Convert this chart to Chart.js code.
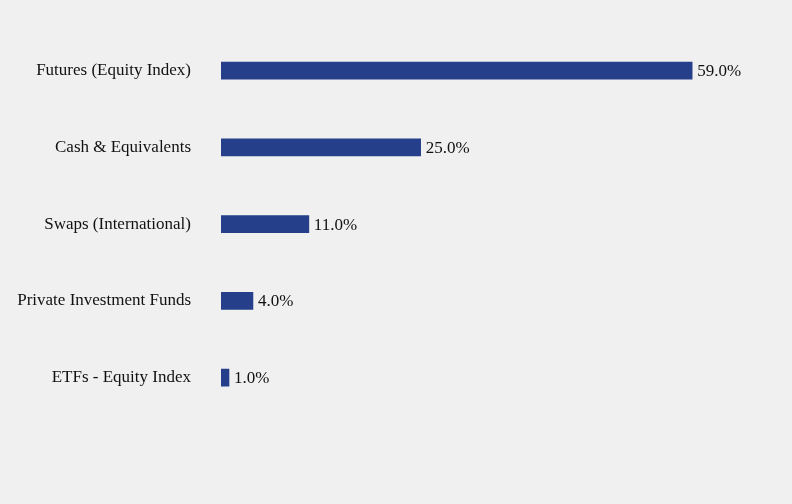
<!DOCTYPE html>
<html><head><meta charset="utf-8">
<script src="https://cdn.jsdelivr.net/npm/chart.js@4"></script>
<style>html,body{margin:0;padding:0;background:#f0f0f0;}#w{width:792px;height:504px;}</style>
</head><body><div id="w"><canvas id="c"></canvas></div>
<script>
const categories = ["Futures (Equity Index)","Cash & Equivalents","Swaps (International)","Private Investment Funds","ETFs - Equity Index"];
const values = [59.0, 25.0, 11.0, 4.0, 1.0];
const labelPlugin = {
  id:'lbl',
  afterDatasetsDraw(chart){
    const ctx=chart.ctx, meta=chart.getDatasetMeta(0);
    ctx.save();ctx.font='17px "Liberation Serif", "Times New Roman", serif';ctx.fillStyle='#111';
    ctx.textBaseline='middle';ctx.textAlign='left';
    meta.data.forEach((b,i)=>ctx.fillText(values[i].toFixed(1)+'%', b.x+5, b.y+1));
    ctx.restore();
  }
};
new Chart(document.getElementById('c'),{
  type:'bar',
  data:{labels:categories,datasets:[{data:values,backgroundColor:'#253f8a',barThickness:17}]},
  plugins:[labelPlugin],
  options:{
    indexAxis:'y',responsive:true,maintainAspectRatio:false,animation:false,
    layout:{padding:{top:16,bottom:88,left:0,right:12}},
    plugins:{legend:{display:false},tooltip:{enabled:false}},
    scales:{
      x:{display:false,min:0,max:70},
      y:{grid:{display:false},border:{display:false},
         ticks:{color:'#111',padding:22,font:{family:'"Liberation Serif", "Times New Roman", serif',size:17}},
         afterFit(s){s.width=221;}}
    }
  }
});
</script></body></html>
